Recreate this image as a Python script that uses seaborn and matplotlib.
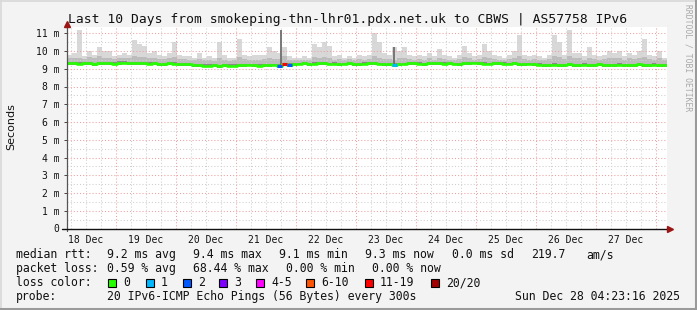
import numpy as np
import matplotlib
matplotlib.use("Agg")
import matplotlib.pyplot as plt
import seaborn as sns
from matplotlib.lines import Line2D
from matplotlib.patches import Rectangle

# ---------------- data (ms), 2-hour buckets starting 18 Dec 04:23:16 ----------------
med = [9.30, 9.31, 9.29, 9.32, 9.30, 9.28, 9.31, 9.33, 9.30, 9.29, 9.34, 9.35, 9.33, 9.31, 9.30, 9.32, 9.29, 9.30, 9.27, 9.28, 9.31, 9.29, 9.26, 9.27,
       9.24, 9.21, 9.19, 9.18, 9.17, 9.20, 9.16, 9.19, 9.18, 9.17, 9.21, 9.19, 9.22, 9.20, 9.18, 9.21, 9.20, 9.22,
       9.18, 9.27, 9.21,
       9.26, 9.28, 9.30, 9.27, 9.29, 9.31, 9.30, 9.28, 9.29, 9.27, 9.28, 9.30, 9.26, 9.25, 9.29, 9.31, 9.30, 9.28, 9.26, 9.27, 9.22, 9.25,
       9.28, 9.30, 9.31, 9.29, 9.27, 9.30, 9.32, 9.31, 9.29, 9.30, 9.28, 9.27, 9.30, 9.31, 9.33, 9.30, 9.29, 9.28, 9.30, 9.31, 9.29, 9.28, 9.30, 9.27, 9.26, 9.28,
       9.25, 9.23, 9.22, 9.21, 9.23, 9.20, 9.22, 9.24, 9.21, 9.22, 9.23, 9.20, 9.21, 9.24, 9.22, 9.19, 9.21, 9.23, 9.22, 9.20, 9.21, 9.24, 9.22, 9.21, 9.23, 9.20, 9.22]

smoke_min = [9.20, 9.21, 9.19, 9.22, 9.20, 9.18, 9.21, 9.22, 9.20, 9.19, 9.23, 9.24, 9.22, 9.21, 9.20, 9.21, 9.19, 9.20, 9.17, 9.18, 9.20, 9.19, 9.16, 9.17,
             9.14, 9.11, 9.10, 9.09, 9.08, 9.11, 9.07, 9.10, 9.09, 9.08, 9.12, 9.10, 9.13, 9.11, 9.09, 9.12, 9.11, 9.13,
             9.09, 9.16, 9.12,
             9.17, 9.19, 9.20, 9.18, 9.19, 9.21, 9.20, 9.19, 9.20, 9.18, 9.19, 9.21, 9.17, 9.16, 9.19, 9.21, 9.20, 9.19, 9.17, 9.18, 9.13, 9.16,
             9.19, 9.21, 9.22, 9.20, 9.18, 9.21, 9.23, 9.22, 9.20, 9.21, 9.19, 9.18, 9.21, 9.22, 9.24, 9.21, 9.20, 9.19, 9.21, 9.22, 9.20, 9.19, 9.21, 9.18, 9.17, 9.19,
             9.15, 9.13, 9.12, 9.11, 9.13, 9.10, 9.12, 9.14, 9.11, 9.12, 9.13, 9.10, 9.11, 9.14, 9.12, 9.09, 9.11, 9.13, 9.12, 9.10, 9.11, 9.14, 9.12, 9.11, 9.13, 9.10, 9.12]

smoke_dark = [9.37, 9.38, 9.36, 9.39, 9.37, 9.35, 9.38, 9.40, 9.37, 9.36, 9.41, 9.42, 9.40, 9.38, 9.37, 9.39, 9.36, 9.37, 9.34, 9.35, 9.38, 9.36, 9.33, 9.34,
              9.31, 9.28, 9.26, 9.25, 9.24, 9.27, 9.23, 9.26, 9.25, 9.24, 9.28, 9.26, 9.29, 9.27, 9.25, 9.28, 9.27, 9.29,
              9.27, 9.34, 9.30,
              9.33, 9.35, 9.37, 9.34, 9.36, 9.38, 9.37, 9.35, 9.36, 9.34, 9.35, 9.37, 9.33, 9.32, 9.36, 9.38, 9.37, 9.35, 9.33, 9.34, 9.32, 9.32,
              9.35, 9.37, 9.38, 9.36, 9.34, 9.37, 9.39, 9.38, 9.36, 9.37, 9.35, 9.34, 9.37, 9.38, 9.40, 9.37, 9.36, 9.35, 9.37, 9.38, 9.36, 9.35, 9.37, 9.34, 9.33, 9.35,
              9.32, 9.30, 9.29, 9.28, 9.30, 9.27, 9.29, 9.31, 9.28, 9.29, 9.30, 9.27, 9.28, 9.31, 9.29, 9.26, 9.28, 9.30, 9.29, 9.27, 9.28, 9.31, 9.29, 9.28, 9.30, 9.27, 9.29]

smoke_mid = [9.58, 9.62, 9.60, 9.56, 9.65, 9.58, 9.70, 9.62, 9.60, 9.55, 9.60, 9.63, 9.58, 9.72, 9.66, 9.64, 9.58, 9.60, 9.56, 9.55, 9.58, 9.68, 9.57, 9.55,
             9.52, 9.48, 9.55, 9.47, 9.50, 9.46, 9.62, 9.52, 9.46, 9.47, 9.64, 9.53, 9.50, 9.52, 9.50, 9.55, 9.60, 9.55,
             9.55, 9.70, 9.50,
             9.48, 9.50, 9.52, 9.48, 9.66, 9.60, 9.65, 9.62, 9.52, 9.55, 9.50, 9.53, 9.48, 9.55, 9.52, 9.56, 9.70, 9.62, 9.56, 9.54, 9.52, 9.60,
             9.62, 9.55, 9.52, 9.55, 9.52, 9.58, 9.52, 9.60, 9.55, 9.52, 9.50, 9.55, 9.64, 9.58, 9.52, 9.55, 9.66, 9.60, 9.55, 9.52, 9.50, 9.55, 9.60, 9.70, 9.56, 9.52,
             9.55, 9.52, 9.50, 9.55, 9.70, 9.64, 9.55, 9.72, 9.58, 9.58, 9.52, 9.62, 9.55, 9.52, 9.55, 9.60, 9.58, 9.60, 9.52, 9.58, 9.55, 9.60, 9.68, 9.55, 9.52, 9.60, 9.50]

smoke_max = [9.8, 9.9, 11.2, 9.7, 10.0, 9.8, 10.2, 10.0, 10.0, 9.7, 9.8, 9.9, 9.8, 10.6, 10.4, 10.3, 9.9, 10.0, 9.8, 9.7, 9.9, 10.5, 9.8, 9.7,
             9.7, 9.6, 9.9, 9.6, 9.7, 9.6, 10.5, 9.8, 9.6, 9.6, 10.7, 9.8, 9.7, 9.8, 9.8, 9.8, 10.2, 10.0,
             9.9, 10.2, 9.7,
             9.6, 9.6, 9.7, 9.6, 10.4, 10.2, 10.5, 10.3, 9.7, 9.8, 9.6, 9.7, 9.6, 9.8, 9.7, 9.8, 11.0, 10.5, 9.9, 9.8, 10.2, 10.0,
             10.2, 9.8, 9.7, 9.8, 9.7, 9.9, 9.7, 10.1, 9.8, 9.7, 9.6, 9.8, 10.3, 9.9, 9.7, 9.8, 10.4, 10.0, 9.8, 9.7, 9.6, 9.8, 10.0, 10.9, 9.8, 9.7,
             9.8, 9.7, 9.6, 9.8, 10.9, 10.5, 9.8, 11.2, 9.9, 9.9, 9.7, 10.2, 9.8, 9.7, 9.8, 10.0, 9.9, 10.0, 9.7, 9.9, 9.8, 10.0, 10.7, 9.8, 9.7, 10.0, 9.6]

# narrow dark smoke spikes (hours after 18 Dec 00:00, top in ms)
spike_hour = [90.2, 135.4]
spike_top = [11.2, 10.2]

loss_bucket = [42, 43, 44, 65]
loss_pings = [2, 14, 2, 1]

loss_labels = ["0", "1", "2", "3", "4-5", "6-10", "11-19", "20/20"]
loss_colors = ["#26ff00", "#00b8ff", "#0059ff", "#7e00ff", "#ff00ff", "#ff5500", "#ff0000", "#a10000"]
loss_upper = [0, 1, 2, 3, 5, 10, 19, 20]

day_labels = ["18 Dec", "19 Dec", "20 Dec", "21 Dec", "22 Dec", "23 Dec", "24 Dec", "25 Dec", "26 Dec", "27 Dec"]
y_major = [0, 1, 2, 3, 4, 5, 6, 7, 8, 9, 10, 11]

title = "Last 10 Days from smokeping-thn-lhr01.pdx.net.uk to CBWS | AS57758 IPv6"
row_rtt = [("median rtt:", 16), ("9.2 ms avg", 107.3), ("9.4 ms max", 193.3), ("9.1 ms min", 279.3),
           ("9.3 ms now", 365), ("0.0 ms sd", 451.7), ("219.7", 530.7), ("am/s", 586)]
row_loss = [("packet loss:", 16), ("0.59 % avg", 107.3), ("68.44 % max", 193.3), ("0.00 % min", 286),
            ("0.00 % now", 371.7)]
probe_text = "20 IPv6-ICMP Echo Pings (56 Bytes) every 300s"
stamp = "Sun Dec 28 04:23:16 2025"

assert all(len(a) == 120 for a in [med, smoke_min, smoke_dark, smoke_mid, smoke_max])

# ---------------- drawing ----------------
sns.set_theme(style="white")
plt.rcParams["font.family"] = ["DejaVu Sans Mono", "DejaVu Sans"]
plt.rcParams["lines.scale_dashes"] = True

W, H = 697, 310
BG = "#f3f3f3"
fig = plt.figure(figsize=(W / 100, H / 100), dpi=100, facecolor=BG)


def fx(x):
    return x / W


def fy(y):
    return 1 - y / H


AX_L, AX_B, AX_R, AX_T = 66.5, 228.5, 666.5, 27.0
ax = fig.add_axes([fx(AX_L), fy(AX_B), (AX_R - AX_L) / W, (AX_B - AX_T) / H])
ax.set_facecolor("white")

START_H = 4 + 23 / 60 + 16 / 3600   # hours after 18 Dec 00:00
STEP_H = 2.0
n = len(med)
edges = START_H + STEP_H * np.arange(n + 1)


def ext(a):
    a = np.asarray(a, dtype=float)
    return np.append(a, a[-1])


ax.fill_between(edges, ext(smoke_min), ext(smoke_max), step="post", color="#d8d8d8", lw=0, zorder=1)
ax.fill_between(edges, ext(smoke_min), ext(smoke_mid), step="post", color="#bcbcbc", lw=0, zorder=1.1)
ax.fill_between(edges, ext(smoke_min), ext(smoke_dark), step="post", color="#8a8a8a", lw=0, zorder=1.2)

# grid (rrdtool style, dotted)
RED_GRID = "#f0a0a0"
GRAY_GRID = "#cfcfcf"
DOT = (0, (1, 2))
t_end = START_H + 240
for h in np.arange(6, 246, 6):
    if h < START_H or h > t_end:
        continue
    ax.axvline(h, color=RED_GRID if h % 24 == 0 else GRAY_GRID, lw=0.75, ls=DOT, zorder=2)
for v in np.arange(0.5, 11.4, 0.5):
    ax.axhline(v, color=RED_GRID if float(v).is_integer() else GRAY_GRID, lw=0.75, ls=DOT, zorder=2)

# dark narrow smoke spikes
for h, top in zip(spike_hour, spike_top):
    b = int((h - START_H) // STEP_H)
    ax.vlines(h, med[b], top, color="#6e6e6e", lw=1.3, zorder=2.5)

sns.lineplot(x=edges, y=ext(med), drawstyle="steps-post", color=loss_colors[0],
             lw=1.9, ax=ax, estimator=None, zorder=3)


def loss_color(p):
    for c, u in zip(loss_colors, loss_upper):
        if p <= u:
            return c
    return loss_colors[-1]


for b, p in zip(loss_bucket, loss_pings):
    ax.hlines(med[b], edges[b], edges[b + 1], color=loss_color(p), lw=2.2, zorder=4)

ax.set_xlim(START_H, t_end)
ax.set_ylim(0, (AX_B - AX_T) / 17.75)

for s in ["top", "right", "bottom", "left"]:
    ax.spines[s].set_visible(False)

ax.set_yticks(y_major)
ax.set_yticklabels([f"{v} m" if v else "0" for v in y_major], fontsize=7, color="#111111")
ax.set_xticks([12 + 24 * i for i in range(len(day_labels))])
ax.set_xticklabels(day_labels, fontsize=7, color="#111111")
ax.tick_params(axis="y", length=2, width=0.7, color="#444444", pad=3.2, direction="out", left=True)
ax.tick_params(axis="x", length=0, pad=4.5, bottom=True)

# axis lines with arrows
fig.add_artist(Line2D([fx(AX_L), fx(AX_L)], [fy(AX_B + 2), fy(24)], color="#555555", lw=0.9))
fig.add_artist(Line2D([fx(62), fx(668)], [fy(AX_B), fy(AX_B)], color="#111111", lw=1.0))
fig.add_artist(Line2D([fx(AX_L)], [fy(23.5)], marker="^", color="#9c1515", markersize=4.5, lw=0))
fig.add_artist(Line2D([fx(669.5)], [fy(AX_B)], marker=">", color="#9c1515", markersize=4.5, lw=0))

# texts
fig.text(fx(348), fy(19), title, ha="center", va="center", fontsize=9.4, color="#111111")
fig.text(fx(11), fy(127), "Seconds", rotation=90, ha="center", va="center",
         fontsize=8, family="DejaVu Sans", color="#111111")
fig.text(fx(688), fy(58), "RRDTOOL / TOBI OETIKER", rotation=270, ha="center", va="center",
         fontsize=5.8, color="#a8a8a8")

LF = 8.3
for txt, x in row_rtt:
    fig.text(fx(x), fy(254.5), txt, ha="left", va="center", fontsize=LF, color="#111111")
for txt, x in row_loss:
    fig.text(fx(x), fy(268.5), txt, ha="left", va="center", fontsize=LF, color="#111111")
fig.text(fx(16), fy(282.5), "loss color:", ha="left", va="center", fontsize=LF, color="#111111")
box_x = [108, 146, 183, 219, 256, 306, 365, 431]
for bx, lab, col in zip(box_x, loss_labels, loss_colors):
    fig.add_artist(Rectangle((fx(bx), fy(286.5)), 8 / W, 8 / H, transform=fig.transFigure,
                             facecolor=col, edgecolor="black", lw=0.8))
    fig.text(fx(bx + 15), fy(282.5), lab, ha="left", va="center", fontsize=LF, color="#111111")
fig.text(fx(16), fy(296.5), "probe:", ha="left", va="center", fontsize=LF, color="#111111")
fig.text(fx(107.3), fy(296.5), probe_text, ha="left", va="center", fontsize=LF, color="#111111")
fig.text(fx(680), fy(296.5), stamp, ha="right", va="center", fontsize=LF, color="#111111")

# frame
fig.add_artist(Line2D([0, 1], [fy(0.5), fy(0.5)], color="#d8d8d8", lw=1.2))
fig.add_artist(Line2D([fx(0.5), fx(0.5)], [0, 1], color="#d8d8d8", lw=1.2))
fig.add_artist(Line2D([0, 1], [fy(308.5), fy(308.5)], color="#9a9a9a", lw=2.2))
fig.add_artist(Line2D([fx(695.5), fx(695.5)], [0, 1], color="#9a9a9a", lw=2.2))

fig.savefig("out.png", dpi=100, facecolor=BG)
